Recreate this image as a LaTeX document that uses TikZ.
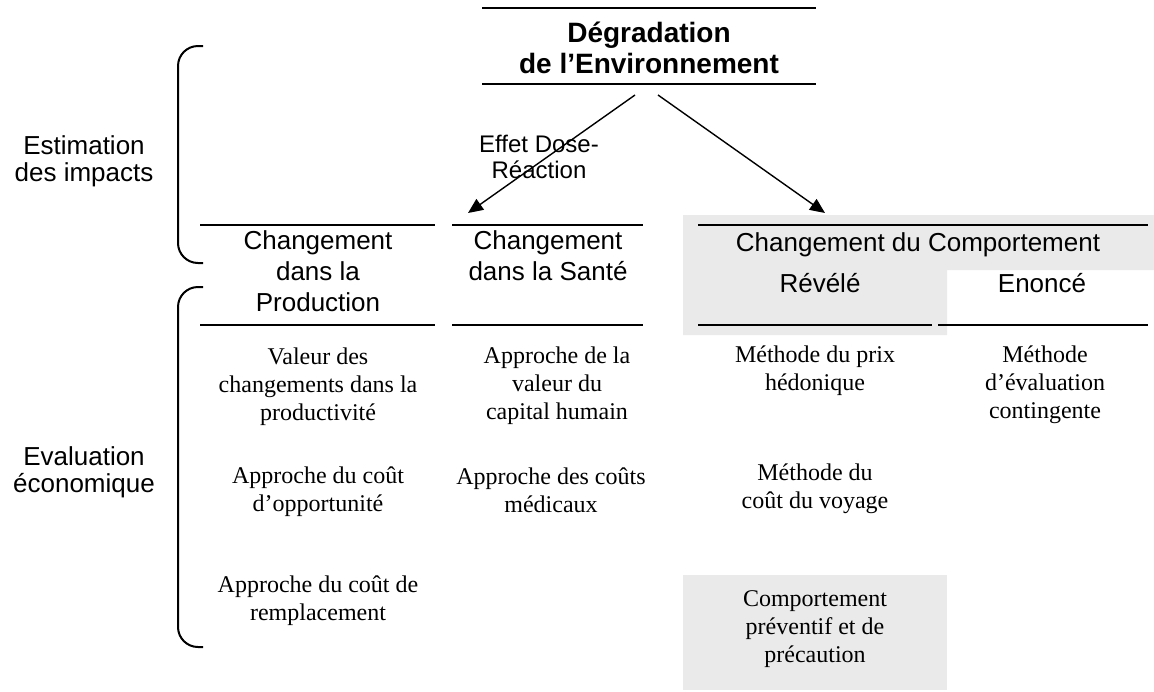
\documentclass[tikz,border=0pt]{standalone}
\usepackage{fontspec}
\setmainfont{Liberation Serif}
\newfontfamily\arial{Liberation Sans}
\usetikzlibrary{arrows.meta}
\definecolor{hellgrau}{RGB}{234,234,234}
\begin{document}
\begin{tikzpicture}[x=0.5pt, y=-0.5pt,
        kopf/.style={font=\arial\fontsize{13}{15.5}\selectfont, align=center, inner sep=0pt},
        seite/.style={font=\arial\fontsize{13}{13.5}\selectfont, align=center, inner sep=0pt},
        methode/.style={font=\fontsize{12}{14}\selectfont, align=center, inner sep=0pt},
        strich/.style={line width=1pt},
        klammer/.style={line width=1pt, rounded corners=10pt},
        pfeil/.style={line width=0.7pt, -{Triangle[length=7.5pt, width=6.5pt]}}]
    \useasboundingbox (0,0) rectangle (1154,691);
        \fill[hellgrau] (683,215) -| (1154,270) -| (947,335) -| cycle;
        \fill[hellgrau] (683,575) rectangle (947,690);
        \draw[strich] (482,  8) -- (816,  8);
        \draw[strich] (482, 84) -- (816, 84);
        \node[kopf, font=\arial\bfseries\fontsize{14}{15.5}\selectfont] (titel) at (649, 47.5) {Dégradation\\de l’Environnement};
        \coordinate (ablinks)  at (635, 95);
        \coordinate (abrechts) at (658, 95);
        \coordinate (zulinks)  at (468, 213);
        \coordinate (zurechts) at (825, 213);
        \draw[pfeil] (ablinks) -- (zulinks);
        \draw[pfeil] (abrechts) -- (zurechts);
        \node[kopf, font=\arial\fontsize{12}{13}\selectfont] (dosis) at (539, 156.5) {Effet Dose-\\Réaction};
        \draw[strich] (200, 225) -- (435, 225);
        \draw[strich] (452, 225) -- (643, 225);
        \draw[strich] (698, 225) -- (1148, 225);
        \draw[strich] (200, 325) -- (435, 325);
        \draw[strich] (452, 325) -- (643, 325);
        \draw[strich] (698, 325) -- (932, 325);
        \draw[strich] (938, 325) -- (1148, 325);
        \node[kopf] (produktion) at (318, 271.5) {Changement\\dans la\\Production};
        \node[kopf] (sante)      at (548, 256)   {Changement\\dans la Santé};
        \node[kopf] (verhalten)  at (918, 244.5) {Changement du Comportement};
        \node[kopf] (revele)     at (820, 283)   {Révélé};
        \node[kopf] (enonce)     at (1042, 283)  {Enoncé};
        \draw[klammer] (203, 46) -- (178, 46) -- (178, 263) -- (203, 263);
        \draw[klammer] (203, 287) -- (178, 287) -- (178, 647) -- (203, 647);
        \node[seite] (schaetzung) at (84, 161.5) {Estimation\\des impacts};
        \node[seite] (bewertung)  at (84, 472)   {Evaluation\\économique};
        \node[methode] (produktiv) at (318, 387) {Valeur des\\changements dans la\\productivité};
        \node[methode] (opportun)  at (318, 492) {Approche du coût\\d’opportunité};
        \node[methode] (ersatz)    at (318, 601) {Approche du coût de\\remplacement};
        \node[methode] (kapital)   at (557, 385.5) {Approche de la\\valeur du\\capital humain};
        \node[methode] (medizin)   at (551, 490) {Approche des coûts\\médicaux};
        \node[methode] (hedonisch) at (815, 371) {Méthode du prix\\hédonique};
        \node[methode] (reise)     at (815, 489) {Méthode du\\coût du voyage};
        \node[methode] (vorsorge)  at (815, 629) {Comportement\\préventif et de\\précaution};
        \node[methode] (kontingent) at (1045, 385) {Méthode\\d’évaluation\\contingente};
    \end{tikzpicture}
\end{document}
